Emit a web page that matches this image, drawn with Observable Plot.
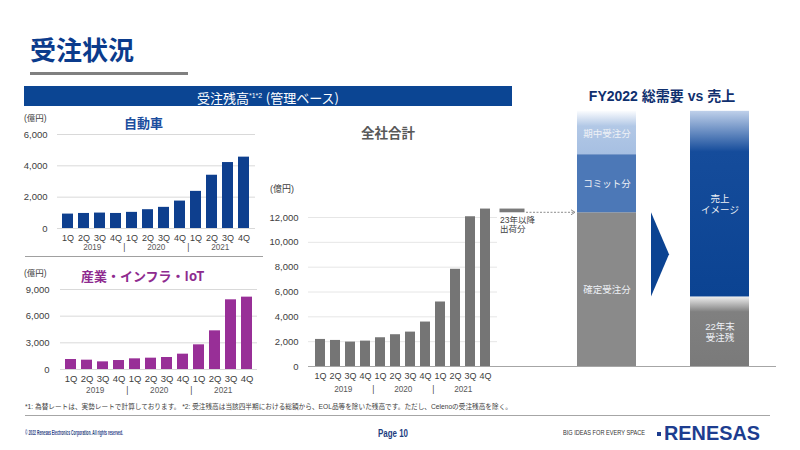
<!DOCTYPE html>
<html>
<head>
<meta charset="utf-8">
<script src="https://cdn.jsdelivr.net/npm/d3@7"></script>
<script src="https://cdn.jsdelivr.net/npm/@observablehq/plot@0.6"></script>
<style>
  html, body { margin: 0; padding: 0; background: #fff; }
  body { width: 800px; height: 450px; position: relative; overflow: hidden;
         font-family: "Liberation Sans", "Noto Sans CJK JP", sans-serif; color: #404040; }
  .abs { position: absolute; white-space: nowrap; }
  .chart { position: absolute; }
  .chart svg { overflow: visible; background: transparent; }
  .cjk { font-family: "Noto Sans CJK JP", sans-serif; }
</style>
</head>
<body>
<svg width="0" height="0" style="position:absolute">
  <defs>
    <linearGradient id="gradPeriod" x1="0" y1="0" x2="0" y2="1">
      <stop offset="0" stop-color="#fbfcfe"/>
      <stop offset="0.35" stop-color="#b2c8e6"/>
      <stop offset="1" stop-color="#a6bfe2"/>
    </linearGradient>
    <linearGradient id="gradSales" x1="0" y1="0" x2="0" y2="1">
      <stop offset="0" stop-color="#bfd0ea"/>
      <stop offset="0.22" stop-color="#154c9b"/>
      <stop offset="1" stop-color="#0b4392"/>
    </linearGradient>
    <linearGradient id="gradBacklog" x1="0" y1="0" x2="0" y2="1">
      <stop offset="0" stop-color="#efefef"/>
      <stop offset="0.22" stop-color="#808080"/>
      <stop offset="1" stop-color="#7a7a7a"/>
    </linearGradient>
  </defs>
</svg>

<!-- slide header -->
<div class="abs cjk" style="left:30px;top:36px;font-size:26px;line-height:26px;font-weight:700;color:#0b3b8c">受注状況</div>
<div class="abs" style="left:30px;top:72px;width:158px;height:3px;background:#808080"></div>
<div class="abs" style="left:24px;top:86px;width:488px;height:20px;background:#0b4593;color:#fff;text-align:center;font-size:13px;line-height:20px">
  <span class="cjk">受注残高</span><sup style="font-size:7px;vertical-align:5px">*1*2</sup> <span class="cjk">(管理ベース)</span>
</div>
<div class="abs" style="left:662px;top:95px;transform:translate(-50%,-50%);font-size:14px;font-weight:700;color:#10306e">FY2022 総需要 vs 売上</div>

<!-- chart titles and units -->
<div class="abs cjk" style="left:124px;top:115px;font-size:13px;line-height:15px;font-weight:700;color:#1c4e9e">自動車</div>
<div class="abs" style="left:24px;top:113px;font-size:8.5px;line-height:10px">(億円)</div>
<div class="abs cjk" style="left:81px;top:268px;font-size:13px;line-height:15px;font-weight:700;color:#8e2b8f">産業・インフラ・IoT</div>
<div class="abs" style="left:24px;top:268px;font-size:8.5px;line-height:10px">(億円)</div>
<div class="abs cjk" style="left:361px;top:125px;font-size:13.5px;line-height:15px;font-weight:700;color:#595959">全社合計</div>
<div class="abs" style="left:270px;top:184px;font-size:9px;line-height:10px">(億円)</div>
<div class="abs" style="left:500px;top:216px;font-size:8.5px;line-height:9px;color:#404040">23年以降<br>出荷分</div>

<div class="abs" style="left:25px;top:256px;width:238px;height:1px;background:#a0a0a0"></div>

<div id="auto" class="chart" style="left:0px;top:110px"></div>
<div id="industrial" class="chart" style="left:0px;top:260px"></div>
<div id="total" class="chart" style="left:262px;top:200px"></div>
<div id="fy" class="chart" style="left:497px;top:100px"></div>

<!-- footer -->
<div class="abs" style="left:25px;top:403px;font-size:6.8px;line-height:8px;color:#404040"><span id="note">*1: 為替レートは、実勢レートで計算しております。 *2: 受注残高は当該四半期における総額から、EOL品等を除いた残高です。ただし、Celenoの受注残高を除く。</span></div>
<div class="abs" style="left:25px;top:415px;width:745px;height:1px;background:#a6a6a6"></div>
<div class="abs" style="left:25px;top:429px;font-family:'Liberation Sans Narrow','Liberation Sans',sans-serif;font-size:7px;line-height:8px;font-weight:700;color:#1d3d7f"><span id="copy">© 2022 Renesas Electronics Corporation. All rights reserved.</span></div>
<div class="abs" style="left:378px;top:428px;font-family:'Liberation Sans Narrow','Liberation Sans',sans-serif;font-size:10px;line-height:11px;font-weight:700;color:#1d3d7f"><span id="page">Page 10</span></div>
<div class="abs" style="left:563px;top:429px;font-family:'Liberation Sans Narrow','Liberation Sans',sans-serif;font-size:7.5px;line-height:8px;color:#333"><span id="tag">BIG IDEAS FOR EVERY SPACE</span></div>
<div class="abs" style="left:657px;top:432px;width:4px;height:4px;background:#1d3d8f"></div>
<div class="abs" style="left:664px;top:422px;font-size:21px;line-height:21px;font-weight:700;color:#1d3d8f"><span id="logo">RENESAS</span></div>

<script>
// Quarterly order backlog (億円), 2019 1Q – 2021 4Q
const quarters = ["1Q", "2Q", "3Q", "4Q"];
const years = ["2019", "2020", "2021"];
const periods = years.flatMap((y) => quarters.map((q) => `${y} ${q}`));

const automotive = [920, 960, 985, 960, 1030, 1200, 1350, 1750, 2370, 3400, 4210, 4555];
const industrial = [1125, 1050, 860, 1010, 1200, 1275, 1350, 1725, 2775, 4350, 7840, 8140];
const total = [2180, 2100, 1965, 2045, 2315, 2560, 2770, 3580, 5195, 7830, 12060, 12680];

// Portion of the 2021 4Q backlog shipping in 2023 or later
const shipAfter2023 = 300;

const autoTicks = [0, 2000, 4000, 6000];
const industrialTicks = [0, 3000, 6000, 9000];
const totalTicks = [0, 2000, 4000, 6000, 8000, 10000, 12000];

// FY2022 total demand vs sales
const demandSegments = ["確定受注分", "コミット分", "期中受注分"];
const demandValues = [12380, 4680, 3490];
const salesSegments = ["22年末\n受注残", "売上\nイメージ"];
const salesValues = [5600, 14950];

const font = "Liberation Sans, Noto Sans CJK JP, sans-serif";

function quarterChart(values, o) {
  const data = periods.map((period, i) => ({period, value: values[i]}));
  const lastYear = years.slice(0, -1);
  return Plot.plot({
    width: o.width, height: o.height,
    marginLeft: o.marginLeft, marginRight: o.marginRight,
    marginTop: o.marginTop, marginBottom: o.marginBottom,
    style: {fontFamily: font, color: "#404040", background: "transparent", overflow: "visible"},
    x: {domain: periods, paddingInner: 0.31, paddingOuter: o.paddingOuter, axis: null},
    y: {domain: [0, o.ticks[o.ticks.length - 1]], axis: null},
    marks: [
      Plot.gridY(o.ticks.filter((t) => o.zeroGrid || t > 0), {stroke: o.gridColor, strokeOpacity: 1}),
      Plot.axisY(o.ticks, {tickSize: 0, tickPadding: o.tickPadding, tickFormat: d3.format(","), label: null, fontSize: 9.5}),
      Plot.barY(data, {x: "period", y: "value", fill: o.color}),
      ...(o.extra || []),
      Plot.axisX({tickSize: 0, tickPadding: o.qPadding, tickFormat: (p) => p.split(" ")[1], label: null, fontSize: o.qFont}),
      Plot.text(years, {x: (y) => `${y} 2Q`, text: (y) => y, frameAnchor: "bottom", dx: o.halfStep, dy: o.yearDy, fontSize: 8.2, fill: "#595959"}),
      Plot.text(lastYear, {x: (y) => `${y} 4Q`, text: () => "|", frameAnchor: "bottom", dx: o.halfStep, dy: o.yearDy, fontSize: 8.2, fill: "#404040"})
    ]
  });
}

document.getElementById("auto").append(quarterChart(automotive, {
  width: 262, height: 150, marginLeft: 57, marginRight: 7, marginTop: 24, marginBottom: 32,
  paddingOuter: 0.155, ticks: autoTicks, tickPadding: 10, color: "#0e3f8e",
  gridColor: "#d9d9d9", zeroGrid: true, qPadding: 6, qFont: 9, halfStep: 8.25, yearDy: 21.5
}));

document.getElementById("industrial").append(quarterChart(industrial, {
  width: 262, height: 145, marginLeft: 60, marginRight: 5, marginTop: 29, marginBottom: 36,
  paddingOuter: 0.143, ticks: industrialTicks, tickPadding: 11, color: "#982f97",
  gridColor: "#d9d9d9", zeroGrid: true, qPadding: 5.5, qFont: 9.5, halfStep: 8.2, yearDy: 23.5
}));

const lastPeriod = periods[periods.length - 1];
const lastTotal = total[total.length - 1];
document.getElementById("total").append(quarterChart(total, {
  width: 240, height: 201, marginLeft: 46, marginRight: 5, marginTop: 17, marginBottom: 35,
  paddingOuter: 0.205, ticks: totalTicks, tickPadding: 10, color: "#757575",
  gridColor: "#e6e6e6", zeroGrid: false, qPadding: 6, qFont: 9, halfStep: 7.8, yearDy: 25.5,
  extra: [
    Plot.ruleY([0], {stroke: "#a6a6a6"}),
    // backlog share shipping in 2023 and later, set beside the last quarter
    Plot.barY([{period: lastPeriod, from: lastTotal - shipAfter2023, to: lastTotal}],
      {x: "period", y1: "from", y2: "to", fill: "#7a7a7a", dx: 27, insetLeft: -7.5, insetRight: -7.5})
  ]
}));

// FY2022 demand vs sales columns
const segmentFill = {
  "確定受注分": "#8a8a8a",
  "コミット分": "#4c78b7",
  "期中受注分": "url(#gradPeriod)",
  "22年末\n受注残": "url(#gradBacklog)",
  "売上\nイメージ": "url(#gradSales)"
};
const fyData = [
  ...demandSegments.map((segment, i) => ({column: "総需要", segment, value: demandValues[i]})),
  ...salesSegments.map((segment, i) => ({column: "売上", segment, value: salesValues[i]}))
];

const fyPlot = Plot.plot({
  width: 280, height: 280, marginLeft: 80, marginRight: 28, marginTop: 0, marginBottom: 0,
  style: {fontFamily: font, background: "transparent", overflow: "visible"},
  x: {domain: ["総需要", "売上"], paddingInner: 0.478, paddingOuter: 0, axis: null},
  y: {domain: [0, 12000], range: [266, 117], axis: null},
  color: {type: "identity"},
  marks: [
    Plot.barY(fyData, Plot.stackY({x: "column", y: "value", fill: (d) => segmentFill[d.segment]})),
    Plot.text(fyData, Plot.stackY({x: "column", y: "value", z: "segment", text: "segment", fill: "#eef1f6", fontSize: 9.5, lineHeight: 1.2})),
    Plot.ruleY([0], {stroke: "#a6a6a6", insetLeft: -80, insetRight: -27})
  ]
});
document.getElementById("fy").append(fyPlot);

// connector from the firm backlog to the demand column, and the arrow toward sales
{
  const ry = fyPlot.scale("y"), rx = fyPlot.scale("x");
  const yFirm = ry.apply(demandValues[0]);
  const yBacklog = ry.apply(salesValues[0]);
  const demandStart = rx.apply("総需要");
  const demandEnd = demandStart + rx.bandwidth;
  const salesStart = rx.apply("売上");
  const svg = d3.select(fyPlot);
  svg.append("line")
    .attr("x1", demandStart - 51).attr("x2", demandStart - 3)
    .attr("y1", yFirm).attr("y2", yFirm)
    .attr("stroke", "#8c8c8c").attr("stroke-width", 1).attr("stroke-dasharray", "2,1.5");
  svg.append("path")
    .attr("d", `M${demandStart - 6},${yFirm - 2.5}L${demandStart - 2},${yFirm}L${demandStart - 6},${yFirm + 2.5}`)
    .attr("fill", "none").attr("stroke", "#8c8c8c").attr("stroke-width", 1);
  const tx0 = demandEnd + 15, tx1 = salesStart - 21;
  svg.append("polygon")
    .attr("points", `${tx0},${yFirm} ${tx1},${(yFirm + yBacklog) / 2} ${tx0},${yBacklog}`)
    .attr("fill", "#0b4392");
}

// condensed footer texts
function fit(id, w) {
  const el = document.getElementById(id);
  el.style.display = "inline-block";
  el.style.transformOrigin = "0 50%";
  const k = w / el.getBoundingClientRect().width;
  el.style.transform = `scaleX(${k})`;
}
fit("note", 487);
fit("copy", 98);
fit("page", 30);
fit("tag", 82);
fit("logo", 96);
</script>
</body>
</html>
